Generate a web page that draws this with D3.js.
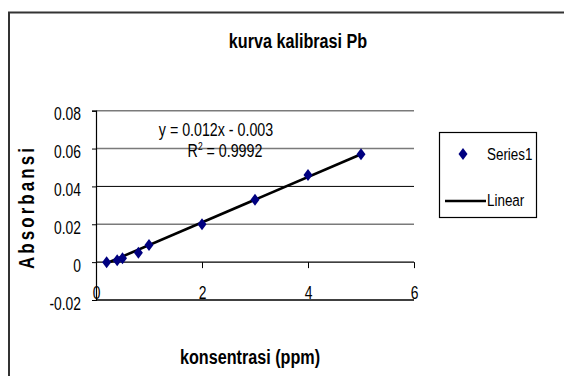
<!DOCTYPE html>
<html>
<head>
<meta charset="utf-8">
<script src="https://cdn.jsdelivr.net/npm/d3@7"></script>
<style>
  body { margin: 0; background: #fff; }
  text { font-family: "Liberation Sans", Arial, sans-serif; fill: #000; }
</style>
</head>
<body>
<div id="chart"></div>
<script>
// data
const konsentrasi = [0.2, 0.4, 0.5, 0.8, 1, 2, 3, 4, 5];
const absorbansi = [0, 0.001, 0.002, 0.005, 0.009, 0.02, 0.033, 0.046, 0.057];
const xTicks = [0, 2, 4, 6];
const yTicks = [-0.02, 0, 0.02, 0.04, 0.06, 0.08];
const trendCoef = [0.012, -0.003]; // slope, intercept
const trendLabels = ['y = 0.012x - 0.003', '0.9992'];
const legendLabels = ['Series1', 'Linear'];

const width = 564, height = 376;
const plot = {left: 96, right: 414, top: 110.7, bottom: 300};
const squeeze = 0.77; // the text in the picture is narrow

const svg = d3.select('#chart')
    .append('svg')
    .attr('width', width)
    .attr('height', height);

svg.append('rect')
    .attr('width', width)
    .attr('height', height)
    .attr('fill', '#fff');

// chart border (runs off the right and bottom)
svg.append('rect')
    .attr('x', 9)
    .attr('y', 12.5)
    .attr('width', 600)
    .attr('height', 400)
    .attr('fill', 'none')
    .attr('stroke', '#333')
    .attr('stroke-width', 2);

// narrow text helper
function addText(parent, px, py, str, size, opts = {}) {
    const g = parent.append('g')
        .attr('transform', `translate(${px},${py}) ${opts.rotate ? 'rotate(-90) ' : ''}scale(${opts.sx || squeeze},1)`);
    return g.append('text')
        .attr('text-anchor', opts.anchor || 'start')
        .style('font-size', size + 'px')
        .style('font-weight', opts.bold ? 'bold' : null)
        .text(str);
}

const x = d3.scaleLinear().domain([0, 6]).range([plot.left, plot.right]);
const y = d3.scaleLinear().domain([-0.02, 0.08]).range([plot.bottom, plot.top]);

// gridlines
svg.append('g')
    .selectAll('line')
    .data(yTicks.filter(d => d !== 0))
    .enter()
    .append('line')
    .attr('x1', plot.left)
    .attr('x2', plot.right)
    .attr('y1', d => y(d))
    .attr('y2', d => y(d))
    .attr('stroke', d => (d === -0.02 || d === 0.04) ? '#000' : '#7a7a7a')
    .attr('stroke-width', d => d === 0.04 ? 1 : 1.4);

// y axis
const yAxis = svg.append('g')
    .attr('transform', `translate(${plot.left},0)`)
    .call(d3.axisLeft(y).tickValues(yTicks).tickSize(4).tickFormat(d => d3.format('.2f')(d).replace('0.00', '0').replace('−', '-')));
yAxis.select('.domain').attr('stroke', '#000').attr('stroke-width', 1.2);
yAxis.selectAll('.tick line').attr('stroke', '#000');
yAxis.selectAll('.tick text')
    .attr('x', -15 / squeeze)
    .attr('dy', '0.5em')
    .attr('transform', `scale(${squeeze},1)`)
    .style('font-size', '18px')
    .style('font-family', null);

// x axis on the zero line, labels sit down on the bottom line
const xAxis = svg.append('g')
    .attr('transform', `translate(0,${y(0)})`)
    .call(d3.axisBottom(x).tickValues(xTicks).tickSize(6).tickFormat(d3.format('d')));
xAxis.select('.domain').attr('stroke', '#000').attr('stroke-width', 1.3).attr('d', `M${plot.left},0H${plot.right}`);
xAxis.selectAll('.tick line').attr('stroke', '#000');
xAxis.selectAll('.tick text')
    .attr('y', plot.bottom - y(0) - 0.5)
    .attr('dy', 0)
    .attr('transform', `scale(${squeeze},1)`)
    .style('font-size', '18px')
    .style('font-family', null);

// trendline
const trend = d => trendCoef[0] * d + trendCoef[1];
const xMin = d3.min(konsentrasi), xMax = d3.max(konsentrasi);
svg.append('line')
    .attr('x1', x(xMin))
    .attr('y1', y(trend(xMin)))
    .attr('x2', x(xMax))
    .attr('y2', y(trend(xMax)))
    .attr('stroke', '#000')
    .attr('stroke-width', 2.6);

// diamond markers
const diamond = 'M0,-6L4.5,0L0,6L-4.5,0Z';
svg.append('g')
    .selectAll('path')
    .data(konsentrasi)
    .enter()
    .append('path')
    .attr('d', diamond)
    .attr('transform', (d, i) => `translate(${x(d)},${y(absorbansi[i])})`)
    .attr('fill', '#000080');

// equation labels
addText(svg, 216, 136, trendLabels[0], 18.5, {anchor: 'middle'});

const r2 = addText(svg, 225, 156.5, '', 18.5, {anchor: 'middle'});
r2.append('tspan').text('R');
r2.append('tspan').attr('dy', -6.5).style('font-size', '11px').text('2');
r2.append('tspan').attr('dy', 6.5).text(' = ' + trendLabels[1]);

// titles
addText(svg, 298, 48, 'kurva kalibrasi Pb', 21, {anchor: 'middle', bold: true});
addText(svg, 250, 364, 'konsentrasi (ppm)', 21, {anchor: 'middle', bold: true});

addText(svg, 33.5, 207, 'Absorbansi', 22, {anchor: 'middle', bold: true, rotate: true})
    .style('letter-spacing', '4px');

// legend
const legend = svg.append('g')
    .attr('class', 'legend');

legend.append('rect')
    .attr('x', 439.5)
    .attr('y', 132.5)
    .attr('width', 97)
    .attr('height', 85)
    .attr('fill', '#fff')
    .attr('stroke', '#000')
    .attr('stroke-width', 1.2);

legend.append('path')
    .attr('d', diamond)
    .attr('transform', 'translate(463,154)')
    .attr('fill', '#000080');

legend.append('line')
    .attr('x1', 445)
    .attr('x2', 486)
    .attr('y1', 201)
    .attr('y2', 201)
    .attr('stroke', '#000')
    .attr('stroke-width', 2.6);

legendLabels.forEach((d, i) => {
    addText(legend, 487, i === 0 ? 159.5 : 206, d, 17, {sx: 0.79});
});
</script>
</body>
</html>
